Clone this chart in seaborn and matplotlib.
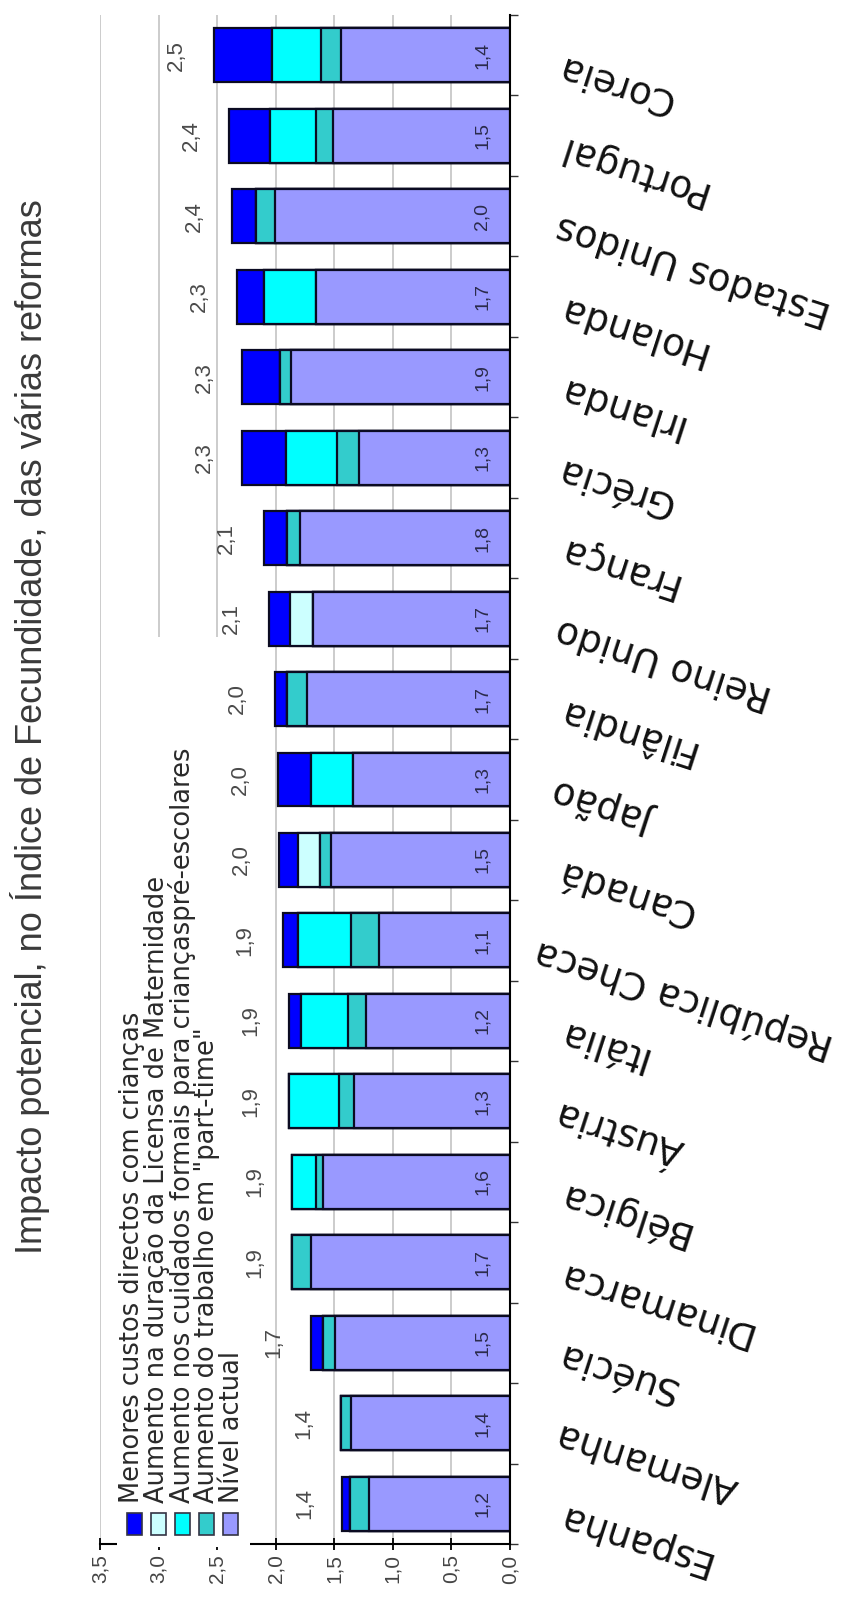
import numpy as np
import pandas as pd
import matplotlib
matplotlib.use("Agg")
import matplotlib.pyplot as plt
from matplotlib.patches import Rectangle
import seaborn as sns

# Countries in chart order (first one sits next to the value axis)
countries = ["Espanha", "Alemanha", "Suécia", "Dinamarca", "Bélgica", "Áustria",
             "Itália", "República Checa", "Canadá", "Japão", "Filândia",
             "Reino Unido", "França", "Grécia", "Irlanda", "Holanda",
             "Estados Unidos", "Portugal", "Coreia"]

# Stacked components of the fertility index (inner to outer)
nivel_actual = [1.20, 1.36, 1.49, 1.70, 1.60, 1.33, 1.23, 1.12, 1.53, 1.34,
                1.73, 1.68, 1.79, 1.29, 1.87, 1.66, 2.01, 1.51, 1.44]
trabalho_part_time = [0.17, 0.08, 0.11, 0.16, 0.06, 0.13, 0.15, 0.24, 0.09, 0.00,
                      0.17, 0.00, 0.11, 0.19, 0.09, 0.00, 0.16, 0.15, 0.17]
cuidados_formais = [0.00, 0.00, 0.00, 0.00, 0.20, 0.43, 0.40, 0.45, 0.00, 0.36,
                    0.00, 0.00, 0.00, 0.43, 0.00, 0.44, 0.00, 0.39, 0.42]
licenca_maternidade = [0.00, 0.00, 0.00, 0.00, 0.00, 0.00, 0.00, 0.00, 0.19, 0.00,
                       0.00, 0.20, 0.00, 0.00, 0.00, 0.00, 0.00, 0.00, 0.00]
custos_directos = [0.06, 0.00, 0.10, 0.00, 0.00, 0.00, 0.11, 0.13, 0.16, 0.28,
                   0.11, 0.18, 0.20, 0.38, 0.33, 0.23, 0.20, 0.35, 0.50]

value_ticks = [0.0, 0.5, 1.0, 1.5, 2.0, 2.5, 3.0, 3.5]
value_tick_labels = ["0,0", "0,5", "1,0", "1,5", "2,0", "2,5", "3,0", "3,5"]

legend_labels = ["Menores custos directos com crianças",
                 "Aumento na duração da Licensa de Maternidade",
                 "Aumento nos cuidados formais para criançaspré-escolares",
                 "Aumento do trabalho em \"part-time\"",
                 "Nível actual"]
title = "Impacto potencial, no Índice de Fecundidade, das várias reformas"

# colours: inner -> outer
c_nivel = "#9999FF"
c_part = "#33CCCC"
c_cuid = "#00FFFF"
c_lic = "#CCFFFF"
c_cust = "#0000FF"
edge = "#0b0b22"

W, H = 842, 1605
fig = plt.figure(figsize=(W / 100, H / 100), dpi=100)
ax_l, ax_r, ax_t, ax_b = 100, 510, 15, 1544
ax = fig.add_axes([ax_l / W, 1 - ax_b / H, (ax_r - ax_l) / W, (ax_b - ax_t) / H])

df = pd.DataFrame({
    "pais": countries,
    "nivel": nivel_actual,
    "part": trabalho_part_time,
    "cuid": cuidados_formais,
    "lic": licenca_maternidade,
    "cust": custos_directos,
})
parts = ["nivel", "part", "cuid", "lic", "cust"]
colors = [c_nivel, c_part, c_cuid, c_lic, c_cust]
cum = df[parts].cumsum(axis=1)
for p in parts:
    df["cum_" + p] = cum[p]
df["total"] = cum["cust"]

# outermost first, inner layers painted over it
for p, col in reversed(list(zip(parts, colors))):
    sns.barplot(data=df, x="cum_" + p, y="pais", order=countries, orient="h",
                color=col, saturation=1, edgecolor=edge, linewidth=1.6,
                width=0.67, errorbar=None, ax=ax, zorder=2)

ax.set_xlim(3.5, 0)
ax.set_ylim(-0.5, len(countries) - 0.5)
ax.set_xlabel("")
ax.set_ylabel("")
ax.set_facecolor("white")
ax.set_axisbelow(True)
ax.xaxis.grid(True, color="#c4c4c4", lw=1.2)
ax.yaxis.grid(False)
for s in ["top", "left"]:
    ax.spines[s].set_visible(False)
for s in ["bottom", "right"]:
    ax.spines[s].set_color("black")
    ax.spines[s].set_linewidth(1.5)

ax.set_xticks(value_ticks, labels=value_tick_labels, rotation=90,
              fontsize=15, color="#444444", family="Liberation Sans")
ax.tick_params(axis="x", direction="inout", length=9, width=1.3, color="black", pad=3)

ax.yaxis.tick_right()
ax.set_yticks(range(len(countries)), labels=countries, rotation=162, ha="right",
              va="baseline", rotation_mode="anchor", fontsize=27,
              family="DejaVu Sans", color="#111111")
ax.set_yticks(np.arange(-0.5, len(countries), 1), minor=True)
ax.tick_params(axis="y", which="major", length=0, pad=36, right=True, left=False)
ax.tick_params(axis="y", which="minor", length=6, width=1, color="#333333",
               direction="out", right=True, left=False)

# value labels
for i, row in df.iterrows():
    ax.annotate(f"{row['total']:.1f}".replace(".", ","), xy=(row["total"], i),
                xytext=(-27, 0), textcoords="offset points", rotation=90,
                ha="center", va="center", fontsize=16, color="#4a4a4a",
                family="Liberation Sans", zorder=7)
    ax.annotate(f"{row['nivel']:.1f}".replace(".", ","), xy=(0, i),
                xytext=(-20, 0), textcoords="offset points", rotation=90,
                ha="center", va="center", fontsize=14, color="#2b2b4b",
                family="Liberation Sans", zorder=7)

# legend block (white panel with vertical entries)
def px2ax(x, y):
    return (x - ax_l) / (ax_r - ax_l), (ax_b - y) / (ax_b - ax_t)

x0, y0 = px2ax(117, 1547)
x1, y1 = px2ax(250, 637)
ax.add_patch(Rectangle((x0, y0), x1 - x0, y1 - y0, transform=ax.transAxes,
                       facecolor="white", edgecolor="none", clip_on=False, zorder=2.6))
leg_colors = [c_cust, c_lic, c_cuid, c_part, c_nivel]
for k, (lab, col) in enumerate(zip(legend_labels, leg_colors)):
    cx = 134 + 24 * k
    mx0, my0 = px2ax(cx - 7.5, 1535)
    mx1, my1 = px2ax(cx + 7.5, 1513)
    ax.add_patch(Rectangle((mx0, my0), mx1 - mx0, my1 - my0, transform=ax.transAxes,
                           facecolor=col, edgecolor="#333344", lw=1.2,
                           clip_on=False, zorder=6))
    tx, ty = px2ax(132 + 25 * k, 1503)
    ax.text(tx, ty, lab, transform=ax.transAxes, rotation=90, rotation_mode="anchor",
            ha="left", va="center", fontsize=18.5, color="#2a2a2a",
            family="DejaVu Sans", zorder=6, clip_on=False)

fig.text(42 / W, 1 - 1254 / H, title, rotation=90, rotation_mode="anchor",
         ha="left", va="baseline", fontsize=26, color="#3a3a3a",
         family="Liberation Sans")

# keep long country names inside the figure by sliding them toward the axis
fig.canvas.draw()
renderer = fig.canvas.get_renderer()
ax_w = ax_r - ax_l
for lab in ax.get_yticklabels():
    bb = lab.get_window_extent(renderer)
    over = bb.x1 - (W - 4)
    if over > 0:
        lab.set_x(lab.get_position()[0] - over / ax_w)

fig.savefig("out.png", dpi=100, facecolor="white")
